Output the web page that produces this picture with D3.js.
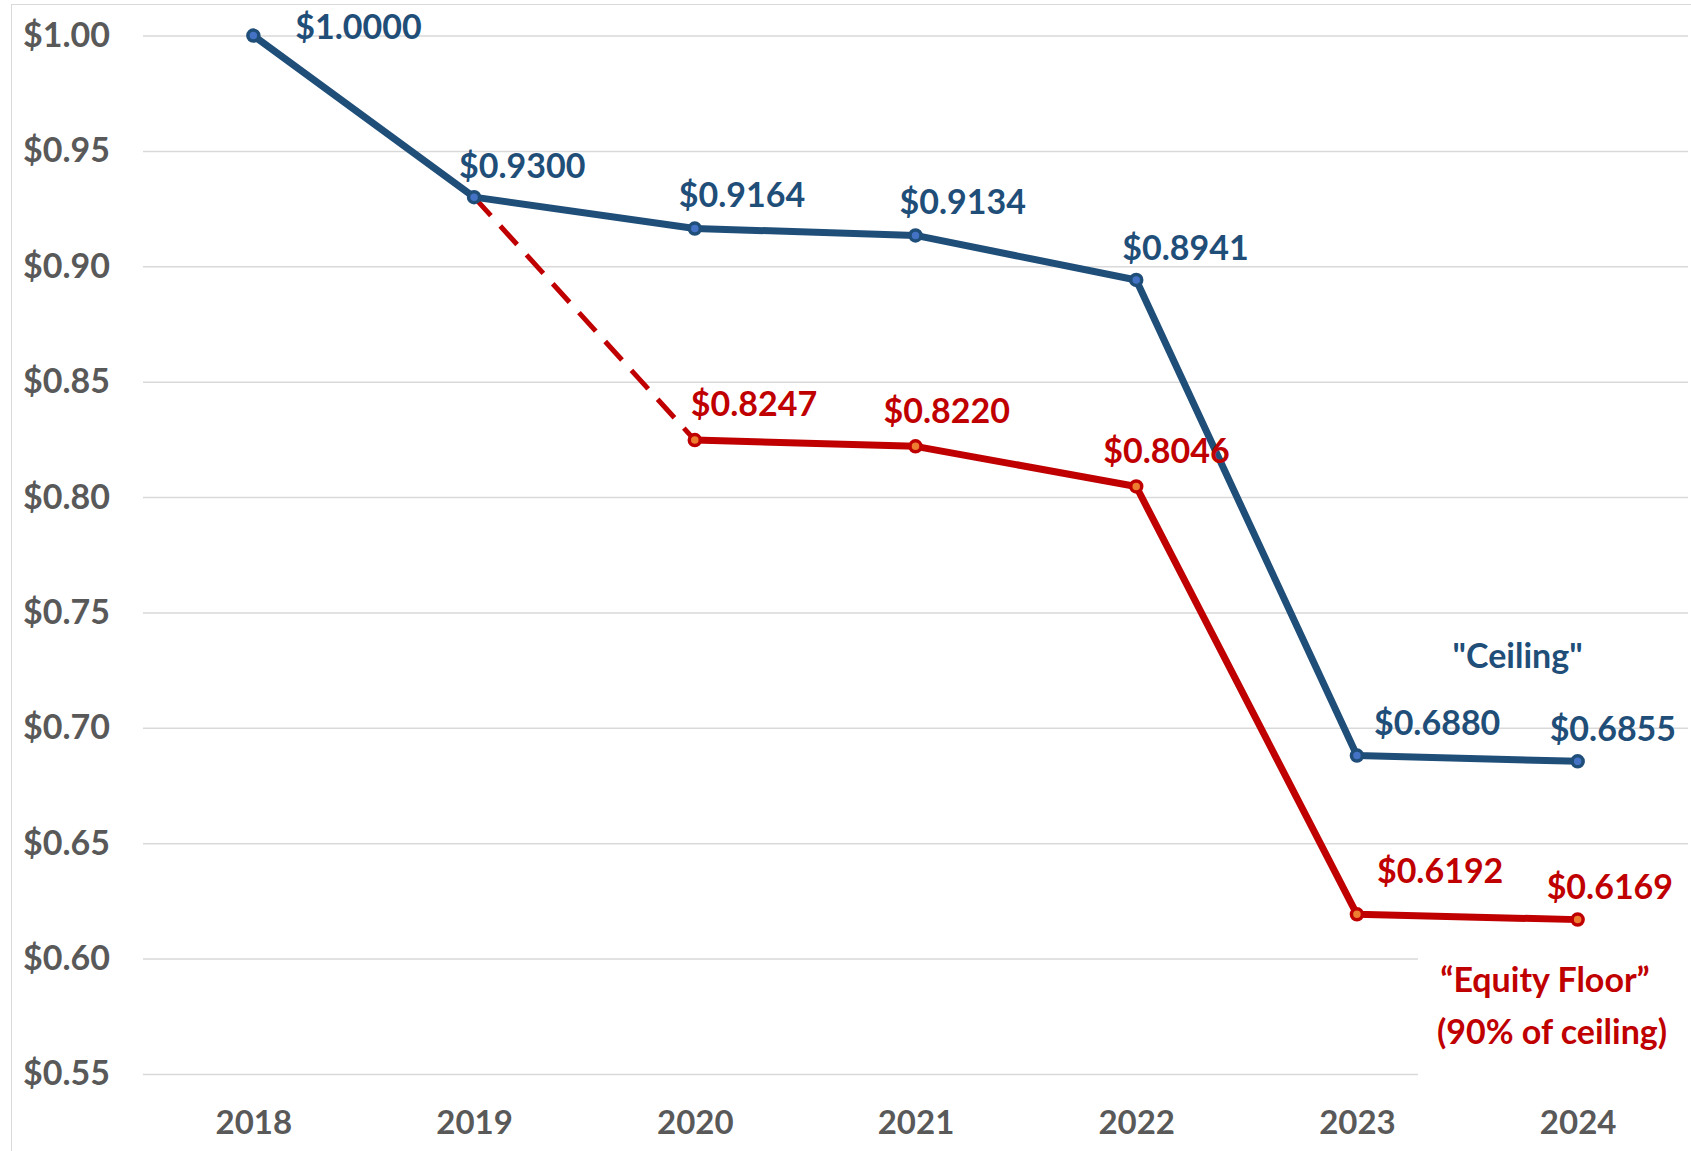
<!DOCTYPE html>
<html>
<head>
<meta charset="utf-8">
<script src="https://cdn.jsdelivr.net/npm/d3@7"></script>
<style>
  body { margin: 0; background: #fff; }
  svg text { font-family: Lato, "Open Sans", sans-serif; font-weight: bold; }
</style>
</head>
<body>
<div id="chart"></div>
<script>
var years = ["2018", "2019", "2020", "2021", "2022", "2023", "2024"];
var ceiling = [1.0000, 0.9300, 0.9164, 0.9134, 0.8941, 0.6880, 0.6855];
var floor = [null, null, 0.8247, 0.8220, 0.8046, 0.6192, 0.6169];
var yTicks = [0.55, 0.60, 0.65, 0.70, 0.75, 0.80, 0.85, 0.90, 0.95, 1.00];

// label nudges (px from the point), roughly as Excel placed them
var ceilNudge = [[42, -9], [-15, -31], [-16, -33], [-16, -33], [-14, -32], [17, -32], [-28, -32]];
var floorNudge = [null, null, [-4, -36], [-32, -35], [-33, -35], [20, -43], [-31, -33]];

var width = 1691, height = 1151;
var blue = "#1f4e79", red = "#c00000", grey = "#595959";

var x = d3.scalePoint()
    .domain(years)
    .range([143, 1688])
    .padding(0.5);

var y = d3.scaleLinear()
    .domain([0.55, 1.00])
    .range([1074, 35.6]);

var fmt = d3.format("$.4f");

var svg = d3.select("#chart").append("svg")
    .attr("width", width)
    .attr("height", height);

// chart frame
svg.append("rect")
    .attr("x", 11.5).attr("y", 4.5)
    .attr("width", width).attr("height", height)
    .attr("fill", "none")
    .attr("stroke", "#d9d9d9");

// gridlines + y labels
var yAxis = d3.axisLeft(y)
    .tickValues(yTicks)
    .tickSize(-(1688 - 143))
    .tickPadding(33)
    .tickFormat(d3.format("$.2f"));

var gy = svg.append("g")
    .attr("transform", "translate(143,0)")
    .call(yAxis);
gy.select(".domain").remove();
gy.selectAll(".tick line").attr("stroke", "#d9d9d9").attr("stroke-width", 1.5);
gy.selectAll(".tick text")
    .attr("fill", grey)
    .style("font-size", "34px");

// x labels
var xAxis = d3.axisBottom(x).tickSize(0).tickPadding(0);
var gx = svg.append("g")
    .attr("transform", "translate(0,1111)")
    .call(xAxis);
gx.select(".domain").remove();
gx.selectAll(".tick text")
    .attr("fill", grey)
    .attr("dy", "0.71em")
    .style("font-size", "33px");

var line = d3.line()
    .defined(function(d) { return d.v != null; })
    .x(function(d) { return x(d.year); })
    .y(function(d) { return y(d.v); });

var ceilData = years.map(function(yr, i) { return {year: yr, v: ceiling[i], i: i}; });
var floorData = years.map(function(yr, i) { return {year: yr, v: floor[i], i: i}; });

// dashed link 2019 ceiling -> 2020 floor
svg.append("path")
    .datum([{year: years[1], v: ceiling[1]}, {year: years[2], v: floor[2]}])
    .attr("d", line)
    .attr("fill", "none")
    .attr("stroke", red)
    .attr("stroke-width", 5)
    .attr("stroke-dasharray", "25,14");

svg.append("path")
    .datum(floorData)
    .attr("d", line)
    .attr("fill", "none")
    .attr("stroke", red)
    .attr("stroke-width", 7)
    .attr("stroke-linejoin", "round");

svg.append("path")
    .datum(ceilData)
    .attr("d", line)
    .attr("fill", "none")
    .attr("stroke", blue)
    .attr("stroke-width", 7)
    .attr("stroke-linejoin", "round");

// markers
function markers(data, col, inner) {
  svg.append("g").selectAll("circle")
      .data(data.filter(function(d) { return d.v != null; }))
      .join("circle")
      .attr("cx", function(d) { return x(d.year); })
      .attr("cy", function(d) { return y(d.v); })
      .attr("r", 5.5)
      .attr("fill", inner)
      .attr("stroke", col)
      .attr("stroke-width", 3.5);
}
markers(ceilData, blue, "#4472c4");
markers(floorData, red, "#ed7d31");

// value labels
function labels(data, col, nudge) {
  svg.append("g").selectAll("text")
      .data(data.filter(function(d) { return d.v != null; }))
      .join("text")
      .attr("x", function(d) { return x(d.year) + nudge[d.i][0]; })
      .attr("y", function(d) { return y(d.v) + nudge[d.i][1]; })
      .attr("dy", "0.35em")
      .attr("fill", col)
      .style("font-size", "34px")
      .text(function(d) { return fmt(d.v); });
}
labels(ceilData, blue, ceilNudge);
labels(floorData, red, floorNudge);

// series names
svg.append("text")
    .attr("x", x("2024") - 60).attr("y", y(0.731))
    .attr("dy", "0.35em")
    .attr("text-anchor", "middle")
    .attr("fill", blue)
    .style("font-size", "34px")
    .text("\"Ceiling\"");

svg.append("rect")
    .attr("x", 1418).attr("y", 945)
    .attr("width", 273).attr("height", 135)
    .attr("fill", "#fff");

var fl = svg.append("text")
    .attr("text-anchor", "middle")
    .attr("fill", red)
    .style("font-size", "34px");
fl.append("tspan").attr("x", 1545).attr("y", 992).text("\u201cEquity Floor\u201d");
fl.append("tspan").attr("x", 1552).attr("y", 1044).text("(90% of ceiling)");
</script>
</body>
</html>
